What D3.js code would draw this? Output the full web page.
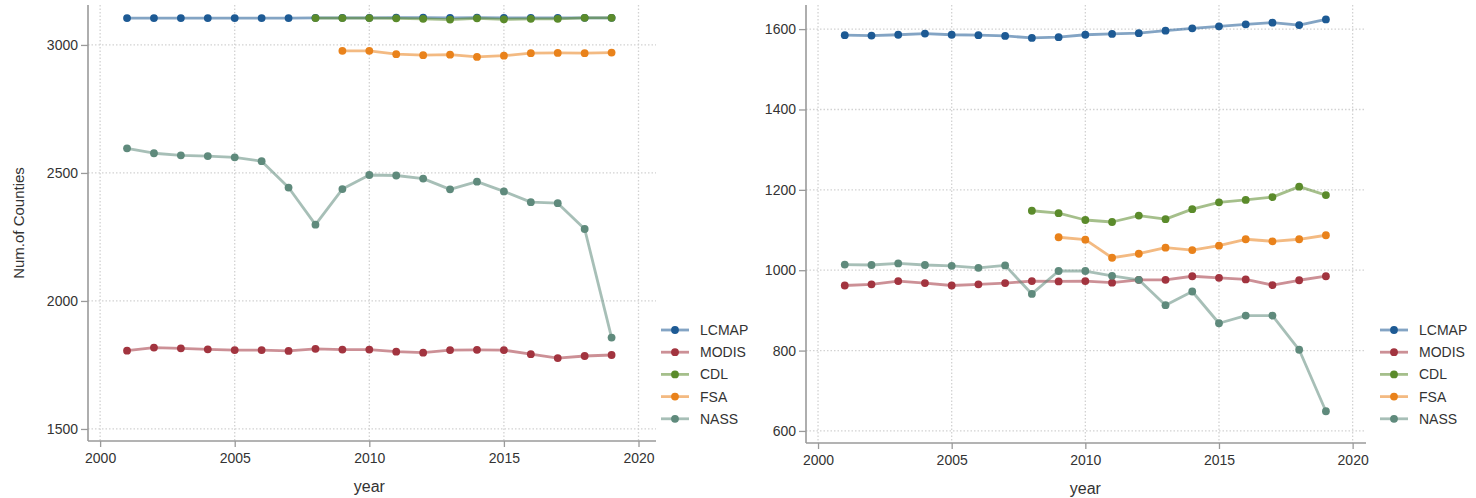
<!DOCTYPE html>
<html>
<head>
<meta charset="utf-8">
<script src="https://cdn.jsdelivr.net/npm/d3@7"></script>
<style>
  html, body { margin: 0; padding: 0; background: #fff; }
  svg text { font-family: "Liberation Sans", Arial, sans-serif; }
</style>
</head>
<body>
<svg id="chart" width="1476" height="498"></svg>
<script>
// Counties covered per year by each data source
const years = [2001, 2002, 2003, 2004, 2005, 2006, 2007, 2008, 2009, 2010,
               2011, 2012, 2013, 2014, 2015, 2016, 2017, 2018, 2019];
const seriesNames = ["LCMAP", "MODIS", "CDL", "FSA", "NASS"];
const seriesColors = ["#1d5a94", "#a2343f", "#5b8b2b", "#e9821b", "#5f8a7c"];

// Left panel
const leftLCMAP = [3105, 3105, 3105, 3105, 3105, 3105, 3105, 3106, 3106, 3106,
                   3107, 3107, 3106, 3107, 3106, 3106, 3106, 3106, 3106];
const leftMODIS = [1806, 1818, 1815, 1811, 1808, 1808, 1805, 1813, 1810, 1810,
                   1802, 1798, 1808, 1809, 1808, 1792, 1777, 1785, 1789];
const leftCDL = [null, null, null, null, null, null, null, 3105, 3105, 3105,
                 3104, 3102, 3099, 3104, 3100, 3102, 3102, 3106, 3106];
const leftFSA = [null, null, null, null, null, null, null, null, 2977, 2977,
                 2964, 2960, 2962, 2953, 2958, 2968, 2969, 2968, 2970];
const leftNASS = [2596, 2577, 2569, 2566, 2561, 2546, 2443, 2298, 2437, 2492,
                  2490, 2478, 2436, 2466, 2428, 2386, 2382, 2281, 1857];
const leftTicks = [1500, 2000, 2500, 3000];

// Right panel
const rightLCMAP = [1585, 1584, 1586, 1589, 1586, 1585, 1583, 1578, 1580, 1586,
                    1588, 1590, 1596, 1602, 1607, 1612, 1616, 1610, 1624];
const rightMODIS = [962, 965, 973, 968, 962, 965, 968, 973, 972, 973,
                    969, 976, 976, 985, 981, 977, 963, 975, 985];
const rightCDL = [null, null, null, null, null, null, null, 1148, 1142, 1125,
                  1120, 1136, 1127, 1152, 1169, 1175, 1182, 1208, 1187];
const rightFSA = [null, null, null, null, null, null, null, null, 1082, 1076,
                  1031, 1041, 1056, 1050, 1061, 1077, 1072, 1077, 1087];
const rightNASS = [1014, 1013, 1017, 1013, 1011, 1006, 1012, 941, 998, 998,
                   986, 976, 913, 947, 868, 887, 887, 802, 649];
const rightTicks = [600, 800, 1000, 1200, 1400, 1600];

const xTicks = [2000, 2005, 2010, 2015, 2020];

const svg = d3.select("#chart");

function drawPanel(opts, seriesData, yTicks, yLabel) {
  const x = d3.scaleLinear().domain(opts.xDomain).range([opts.left, opts.right]);
  const y = d3.scaleLinear().domain(opts.yDomain).range([opts.bottom, opts.top]);
  const g = svg.append("g");

  // dotted grid
  g.append("g").selectAll("line").data(yTicks).join("line")
    .attr("x1", opts.left).attr("x2", opts.right)
    .attr("y1", d => y(d)).attr("y2", d => y(d))
    .attr("stroke", "#d2d2d2").attr("stroke-width", 1.3)
    .attr("stroke-dasharray", "1.5,2");
  g.append("g").selectAll("line").data(xTicks).join("line")
    .attr("y1", opts.top).attr("y2", opts.bottom)
    .attr("x1", d => x(d)).attr("x2", d => x(d))
    .attr("stroke", "#d2d2d2").attr("stroke-width", 1.3)
    .attr("stroke-dasharray", "1.5,2");

  // axes
  const yAxis = d3.axisLeft(y).tickValues(yTicks).tickSize(7).tickPadding(3)
    .tickFormat(d3.format("d"));
  const xAxis = d3.axisBottom(x).tickValues(xTicks).tickSize(6).tickPadding(6)
    .tickFormat(d3.format("d"));
  const ya = g.append("g").attr("transform", `translate(${opts.left},0)`).call(yAxis);
  const xa = g.append("g").attr("transform", `translate(0,${opts.bottom})`).call(xAxis);
  [ya, xa].forEach(a => {
    a.select(".domain").attr("stroke", "#9a9a9a").attr("stroke-width", 1.6);
    a.selectAll(".tick line").attr("stroke", "#9a9a9a").attr("stroke-width", 1.3);
    a.selectAll(".tick text").attr("fill", "#333").style("font-size", "14px");
  });
  ya.select(".domain").attr("d", `M0,${opts.top}V${opts.bottom}`);
  xa.select(".domain").attr("d", `M${opts.left},0H${opts.right}`);

  g.append("text").attr("x", (x(2000) + x(2020)) / 2).attr("y", opts.bottom + 51)
    .attr("text-anchor", "middle").attr("fill", "#333").style("font-size", "16px")
    .text("year");
  if (yLabel) {
    g.append("text")
      .attr("transform", `translate(${opts.yLabelX},${(opts.top + opts.bottom) / 2}) rotate(-90)`)
      .attr("text-anchor", "middle").attr("fill", "#333").style("font-size", "15px")
      .text(yLabel);
  }

  // series lines and markers
  seriesData.forEach((vals, i) => {
    const pts = years.map((yr, j) => ({ yr, v: vals[j] })).filter(p => p.v !== null);
    const line = d3.line().x(p => x(p.yr)).y(p => y(p.v));
    g.append("path").datum(pts).attr("d", line)
      .attr("fill", "none").attr("stroke", seriesColors[i])
      .attr("stroke-opacity", 0.55).attr("stroke-width", 2.8)
      .attr("stroke-linejoin", "round");
    g.append("g").selectAll("circle").data(pts).join("circle")
      .attr("cx", p => x(p.yr)).attr("cy", p => y(p.v)).attr("r", 3.9)
      .attr("fill", seriesColors[i]);
  });

  // legend
  const lg = g.append("g").attr("transform", `translate(${opts.legendX},${opts.legendY})`);
  seriesNames.forEach((name, i) => {
    const row = lg.append("g").attr("transform", `translate(0,${i * 22.2})`);
    row.append("line").attr("x1", 0).attr("x2", 28).attr("y1", 0).attr("y2", 0)
      .attr("stroke", seriesColors[i]).attr("stroke-opacity", 0.55).attr("stroke-width", 2.8);
    row.append("circle").attr("cx", 14).attr("cy", 0).attr("r", 3.9).attr("fill", seriesColors[i]);
    row.append("text").attr("x", 39).attr("y", 0).attr("dy", "0.35em")
      .attr("fill", "#333").style("font-size", "14px").text(name);
  });
}

drawPanel(
  { left: 88, right: 656, top: 5, bottom: 441, xDomain: [1999.55, 2020.65],
    yDomain: [1453, 3156], yLabelX: 24, legendX: 661, legendY: 330 },
  [leftLCMAP, leftMODIS, leftCDL, leftFSA, leftNASS], leftTicks, "Num.of Counties");

drawPanel(
  { left: 806, right: 1366, top: 5, bottom: 443, xDomain: [1999.55, 2020.5],
    yDomain: [570, 1660], legendX: 1380, legendY: 330 },
  [rightLCMAP, rightMODIS, rightCDL, rightFSA, rightNASS], rightTicks, null);
</script>
</body>
</html>
